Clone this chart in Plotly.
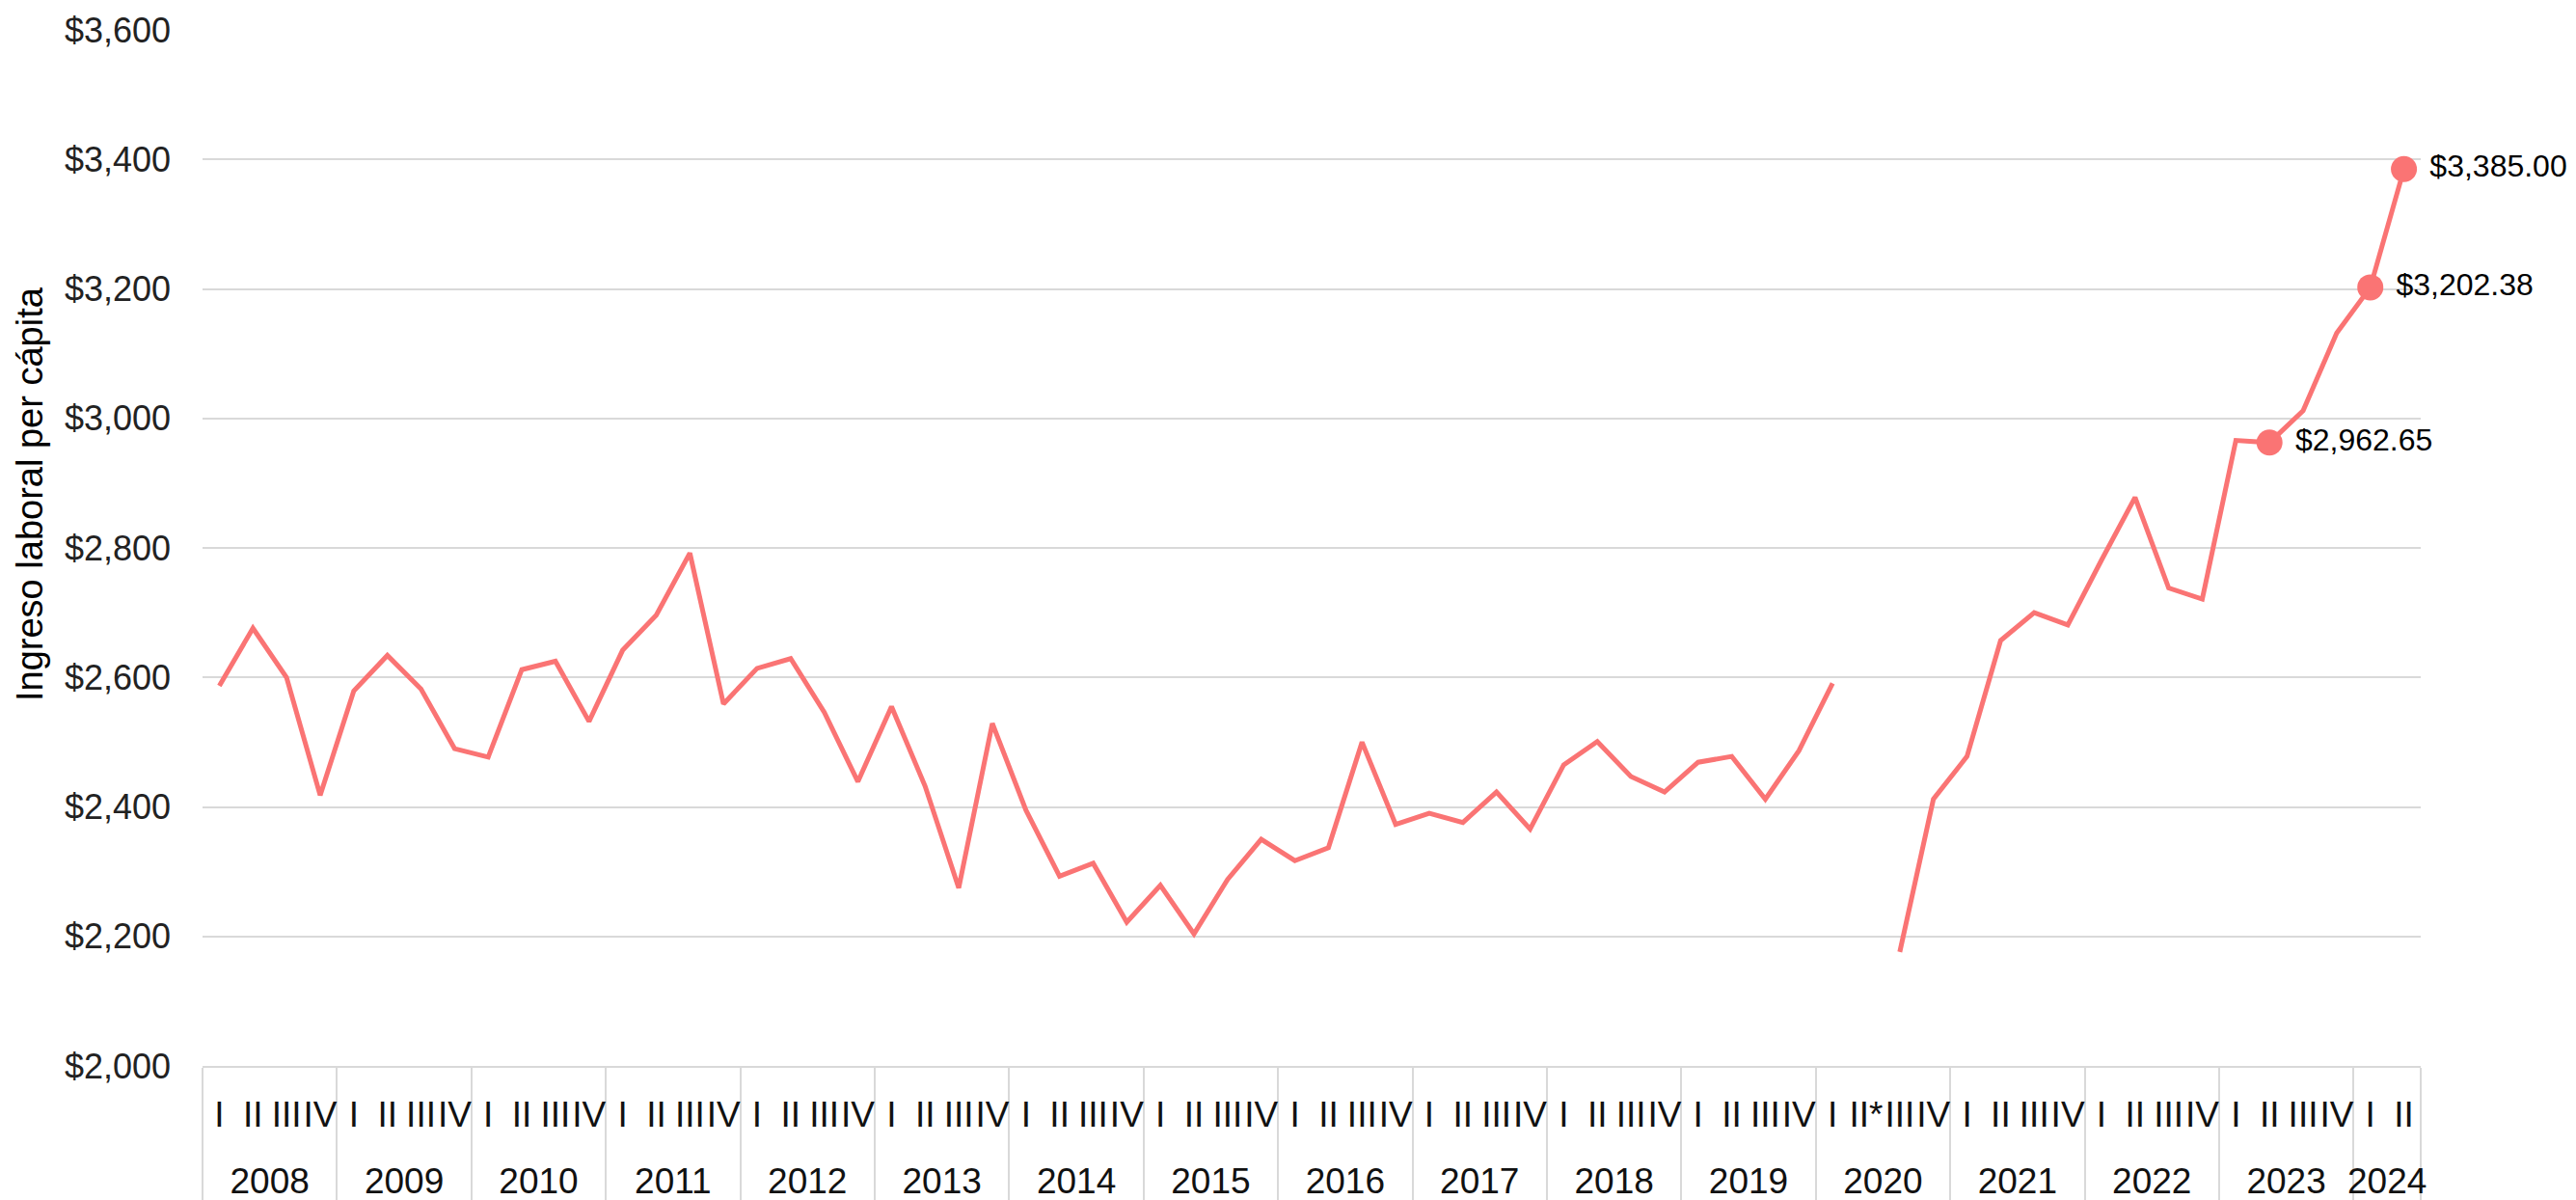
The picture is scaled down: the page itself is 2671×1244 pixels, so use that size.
import plotly.graph_objects as go

# ---- data ----
years = ["2008", "2009", "2010", "2011", "2012", "2013", "2014", "2015",
         "2016", "2017", "2018", "2019", "2020", "2021", "2022", "2023", "2024"]
# 2020 labels carry a zero-width space so Plotly keeps their order (II* is new)
quarters_by_year = {
    "2020": ["I\u200b", "II*", "III\u200b", "IV\u200b"],
    "2024": ["I", "II"],
}
default_quarters = ["I", "II", "III", "IV"]

ingreso = [
    2587, 2676, 2600, 2418,      # 2008
    2579, 2634, 2582, 2490,      # 2009
    2477, 2612, 2625, 2532,      # 2010
    2642, 2696, 2792, 2559,      # 2011
    2614, 2629, 2546, 2439,      # 2012
    2555, 2432, 2275, 2529,      # 2013
    2395, 2293, 2313, 2222,      # 2014
    2279, 2204, 2288, 2350,      # 2015
    2317, 2337, 2500, 2373,      # 2016
    2390, 2376, 2423, 2366,      # 2017
    2465, 2501, 2447, 2423,      # 2018
    2469, 2478, 2412, 2487,      # 2019
    2591, None, 2176, 2412,      # 2020
    2478, 2657, 2700, 2681,      # 2021
    2781, 2878, 2738, 2721,      # 2022
    2966, 2962.65, 3012, 3132,   # 2023
    3202.38, 3385.00,            # 2024
]

highlight_keys = [("2023", "II"), ("2024", "I"), ("2024", "II")]

y_ticks = [2000, 2200, 2400, 2600, 2800, 3000, 3200, 3400, 3600]
y_title = "Ingreso laboral per cápita"

# ---- build axes ----
# an empty second line under each quarter label spaces the year row lower
SPACER = "<br><span style='font-size:12px'>\u00a0</span>"
x_year, x_quarter, x_quarter_raw = [], [], []
for yr in years:
    for q in quarters_by_year.get(yr, default_quarters):
        x_year.append(yr)
        x_quarter.append(q + SPACER)
        x_quarter_raw.append(q)

hx_year, hx_q, hy = [], [], []
for yr, q in highlight_keys:
    for i in range(len(x_year)):
        if x_year[i] == yr and x_quarter_raw[i] == q:
            hx_year.append(yr)
            hx_q.append(x_quarter[i])
            hy.append(ingreso[i])

LINE = "#FA7474"
GRID = "#D9D9D9"
FONT = "Liberation Sans, Arial, sans-serif"

fig = go.Figure()
fig.add_trace(go.Scatter(
    x=[x_year, x_quarter], y=ingreso, mode="lines",
    line=dict(color=LINE, width=5), connectgaps=False,
    hoverinfo="skip", showlegend=False,
))
fig.add_trace(go.Scatter(
    x=[hx_year, hx_q], y=hy, mode="markers+text",
    marker=dict(color=LINE, size=27),
    text=["\u00a0" + f"${v:,.2f}" for v in hy], textposition="middle right",
    textfont=dict(size=32, color="#000000", family=FONT),
    cliponaxis=False, showlegend=False,
))

# page body has an 8px default margin; size the figure to fill the window
W, H = 2663, 1236
plot_l, plot_r, plot_t, plot_b = 202, 161, 23, 139
plot_h = H - plot_t - plot_b
plot_w = W - plot_l - plot_r

fig.update_layout(
    width=W, height=H,
    margin=dict(l=plot_l, r=plot_r, t=plot_t, b=plot_b, pad=0, autoexpand=False),
    plot_bgcolor="white", paper_bgcolor="white",
    font=dict(family=FONT, color="#222222"),
    xaxis=dict(
        type="multicategory", automargin=False,
        tickmode="linear", tick0=0, dtick=1,
        showdividers=True, dividercolor=GRID, dividerwidth=2,
        showgrid=False, showline=True, linecolor=GRID, linewidth=2,
        ticks="", tickangle=0, ticklabelstandoff=17,
        tickfont=dict(size=37, color="#111111", family=FONT),
        range=[-0.5, len(x_year) - 0.5],
    ),
    yaxis=dict(
        range=[2000, 3600], tickvals=y_ticks, automargin=False,
        ticktext=[f"${v:,}" for v in y_ticks],
        showgrid=True, gridcolor=GRID, gridwidth=2,
        zeroline=False, showline=False, ticks="",
        tickfont=dict(size=36, color="#222222", family=FONT),
        ticklabelstandoff=32,
    ),
    annotations=[dict(
        text=y_title, textangle=-90, showarrow=False,
        xref="paper", yref="paper",
        x=(23 - plot_l) / plot_w, y=(H - plot_b - 504) / plot_h,
        xanchor="center", yanchor="middle",
        font=dict(size=38, color="#000000", family=FONT),
    )],
)

fig.write_html("out.html")
